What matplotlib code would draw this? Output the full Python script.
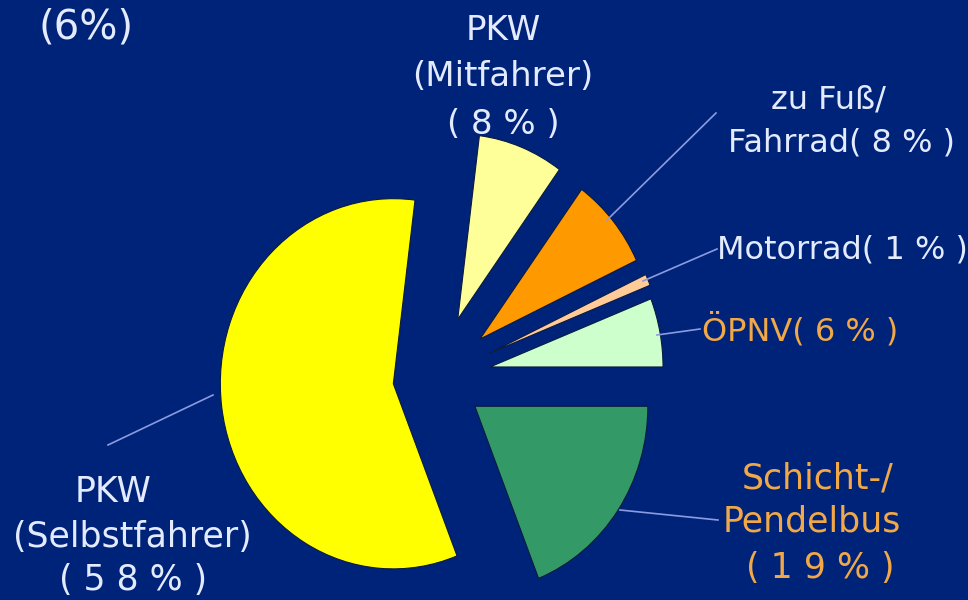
import numpy as np
import matplotlib
matplotlib.use('Agg')
import matplotlib.pyplot as plt

# Modal split (percent), clockwise from the top
modes = ['PKW (Mitfahrer)', 'zu Fuß/Fahrrad', 'Motorrad', 'ÖPNV',
         'Schicht-/Pendelbus', 'PKW (Selbstfahrer)']
shares = [8, 8, 1, 6, 19, 58]
colors = ['#ffff99', '#ff9900', '#ffcc99', '#ccffcc', '#339966', '#ffff00']

W, H = 968, 600
bg = '#00237a'
white_txt = '#e4ebff'
orange_txt = '#f0a848'
line_col = '#8c9be0'

fig = plt.figure(figsize=(W / 100, H / 100), dpi=100, facecolor=bg)

# pie axes, slightly stretched vertically like the original slide
s = 1.07
ax = fig.add_axes([0, 0, 1, 1])
ax.set_facecolor(bg)
r = 173
# offsets of each wedge from the centre (pie's explode is in data units)
offs = [59, 57, 58, 55, 47, 43]
ax.pie(shares, colors=colors, startangle=82.8, counterclock=False,
       radius=r, center=(436, (H - 378) / s), explode=offs,
       wedgeprops=dict(edgecolor='#0a1a40', linewidth=0.8))
ax.set_aspect('auto')
ax.set_xlim(0, W)
ax.set_ylim(0, H / s)
ax.axis('off')

# overlay in image pixel coords for labels and leader lines
ov = fig.add_axes([0, 0, 1, 1])
ov.set_xlim(0, W)
ov.set_ylim(H, 0)
ov.patch.set_alpha(0)
ov.axis('off')


def txt(x, y, t, c=white_txt, size=23):
    ov.text(x, y, t, color=c, fontsize=size, ha='center', va='center',
            family='DejaVu Sans')


def lead(x0, y0, x1, y1):
    ov.plot([x0, x1], [y0, y1], color=line_col, lw=1.2)


# fragment from a neighbouring chart
txt(86, 28, '(6%)', size=29)

txt(503, 30, 'PKW', size=24.5)
txt(503, 77, '(Mitfahrer)', size=24.5)
txt(503, 125, '( 8 % )', size=24.5)

txt(828, 100, 'zu Fuß/')
txt(842, 143, 'Fahrrad( 8 % )')
lead(607, 220, 716, 113)

txt(842, 250, 'Motorrad( 1 % )')
lead(643, 281, 717, 249)

txt(800, 330, 'ÖPNV( 6 % )', c=orange_txt)
lead(657, 335, 700, 329)

txt(818, 478, 'Schicht-/', c=orange_txt, size=25)
txt(812, 522, 'Pendelbus', c=orange_txt, size=25)
txt(820, 568, '( 1 9 % )', c=orange_txt, size=25)
lead(620, 510, 718, 520)

txt(113, 492, 'PKW', size=25)
txt(132, 537, '(Selbstfahrer)', size=25)
txt(133, 580, '( 5 8 % )', size=25)
lead(108, 445, 213, 395)

fig.savefig('out.png', dpi=100, facecolor=bg)
